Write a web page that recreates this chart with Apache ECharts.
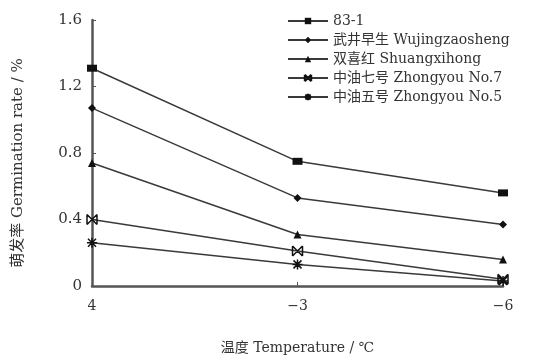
<!DOCTYPE html>
<html><head><meta charset="utf-8">
<script src="https://cdn.jsdelivr.net/npm/echarts@6/dist/echarts.min.js"></script>
<style>html,body{margin:0;padding:0;background:#fff}#c{width:541px;height:360px}</style>
</head><body><div id="c"></div>
<script>
var categories = ['4', '−3', '−6'];
var seriesNames = ['83-1', '武井早生 Wujingzaosheng', '双喜红 Shuangxihong', '中油七号 Zhongyou No.7', '中油五号 Zhongyou No.5'];
var s831 = [1.31, 0.75, 0.56];
var sWujing = [1.07, 0.53, 0.37];
var sShuang = [0.74, 0.31, 0.16];
var sZy7 = [0.40, 0.21, 0.04];
var sZy5 = [0.26, 0.13, 0.03];
var yTicks = [0, 0.4, 0.8, 1.2, 1.6];

var FONT = '"DejaVu Serif", "Liberation Serif", "Noto Sans CJK SC", serif';
var C = '#333';
var symbols = [
  'rect',
  'diamond',
  'triangle',
  'path://M0,0 L10,10 M10,0 L0,10 M0,0 L0,10 M10,0 L10,10 Z',
  'path://M5,0 L5,10 M0,5 L10,5 M1,1 L9,9 M9,1 L1,9 Z'
];
var sizes = [[10, 7], 8, 8, 10, 10];
var data = [s831, sWujing, sShuang, sZy7, sZy5];

var chart = echarts.init(document.getElementById('c'), null, {renderer: 'canvas'});
chart.setOption({
  animation: false,
  backgroundColor: '#fff',
  textStyle: {fontFamily: FONT, color: C},
  grid: {left: 92, top: 20, right: 38, bottom: 74, containLabel: false, outerBoundsMode: 'none'},
  legend: {
    orient: 'vertical', left: 282, top: 8, itemGap: 3, itemWidth: 40, itemHeight: 8,
    textStyle: {fontFamily: FONT, fontSize: 14, color: C, lineHeight: 16},
    data: seriesNames
  },
  xAxis: {
    type: 'category', data: categories, boundaryGap: false,
    name: '温度 Temperature / ℃', nameLocation: 'middle', nameGap: 55,
    nameTextStyle: {fontFamily: FONT, fontSize: 14, color: C},
    axisLine: {lineStyle: {color: '#555', width: 2.5}},
    axisTick: {inside: true, length: 4, lineStyle: {color: '#555'}},
    axisLabel: {fontFamily: FONT, fontSize: 14, color: C, margin: 13}
  },
  yAxis: {
    type: 'value', min: yTicks[0], max: yTicks[yTicks.length - 1], interval: 0.4,
    name: '萌发率 Germination rate / %', nameLocation: 'middle', nameGap: 66, nameRotate: 90,
    nameTextStyle: {fontFamily: FONT, fontSize: 15, color: C, padding: [0, 20, 0, 0]},
    axisLine: {show: true, lineStyle: {color: '#555', width: 2.5}},
    axisTick: {show: true, inside: true, length: 4, lineStyle: {color: '#555'}},
    splitLine: {show: false},
    axisLabel: {fontFamily: FONT, fontSize: 15, color: C, margin: 10}
  },
  series: seriesNames.map(function (n, i) {
    return {
      name: n, type: 'line', data: data[i],
      symbol: symbols[i], symbolSize: sizes[i],
      lineStyle: {color: '#3a3a3a', width: 1.5},
      itemStyle: {color: '#111', borderColor: '#111', borderWidth: i >= 3 ? 1.5 : 0}
    };
  })
});
</script></body></html>
